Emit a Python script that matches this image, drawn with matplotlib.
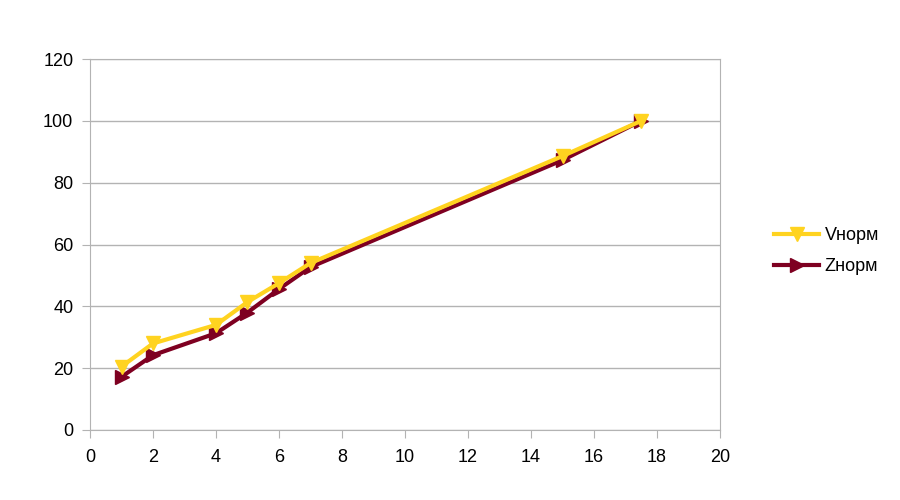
import matplotlib
matplotlib.use("Agg")
import matplotlib.pyplot as plt

plt.rcParams["font.family"] = ["Liberation Sans", "DejaVu Sans"]

x = [1, 2, 4, 5, 6, 7, 15, 17.5]
v_norm = [20.5, 28, 34, 41.4, 47.5, 54, 88.6, 100]
z_norm = [17.2, 24.2, 31.3, 38, 45.6, 52.7, 87.3, 100]

fig = plt.figure(figsize=(9, 5), dpi=100)
ax = fig.add_axes([0.1, 0.14, 0.7, 0.742])

ax.plot(x, v_norm, color="#ffd320", lw=3, marker="v", ms=10, label="Vнорм", zorder=3)
ax.plot(x, z_norm, color="#7e0021", lw=3, marker=">", ms=10, label="Zнорм", zorder=2)

ax.set_xlim(0, 20)
ax.set_ylim(0, 120)
ax.set_xticks(range(0, 21, 2))
ax.set_yticks(range(0, 121, 20))
ax.yaxis.grid(True, color="#b3b3b3", lw=1)
ax.set_axisbelow(True)
for s in ax.spines.values():
    s.set_color("#b3b3b3")
ax.tick_params(colors="#b3b3b3", labelcolor="black", labelsize=13, length=6)
ax.tick_params(axis="x", pad=8)
ax.tick_params(axis="y", pad=6)

ax.legend(loc="center left", bbox_to_anchor=(1.06, 0.482), frameon=False,
          fontsize=13, handlelength=2.5, handletextpad=0.3, labelspacing=0.8)

fig.savefig("out.png")
